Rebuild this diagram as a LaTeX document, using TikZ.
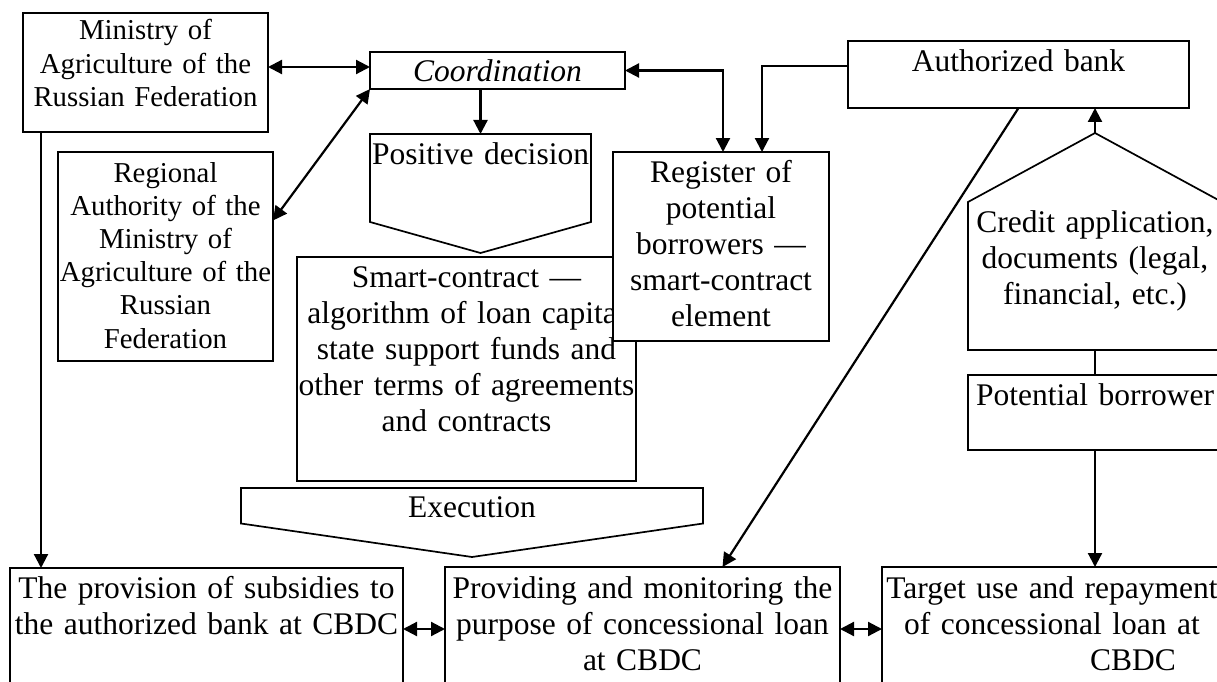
\documentclass[tikz,border=0pt]{standalone}
\usepackage{fontspec}
\setmainfont{Liberation Serif}
\usepackage{tikz}
\usetikzlibrary{arrows.meta}
\newcommand{\boxfont}{\fontsize{31.5pt}{36.2pt}\selectfont}
\newcommand{\smallboxfont}{\fontsize{28.8pt}{33.2pt}\selectfont}
% text width is 40pt more than the box, the negative xsep takes it back
\tikzstyle{box} = [rectangle, draw=black, line width=1.7pt, fill=white, inner xsep=-20pt, inner ysep=0pt, outer sep=0pt, anchor=north west, align=center, font=\boxfont]
\tikzstyle{smallbox} = [box, font=\smallboxfont]
\tikzstyle{plate} = [box, draw=none, fill=none]
\tikzstyle{outline} = [draw=black, line width=1.7pt, line join=miter]
\tikzstyle{line} = [draw, line width=2.2pt]
\tikzstyle{arrow} = [line width=2.2pt, -{Triangle[length=14pt,width=14pt]}]
\tikzstyle{darrow} = [line width=2.2pt, {Triangle[length=14pt,width=14pt]}-{Triangle[length=14pt,width=14pt]}]
\begin{document}
\begin{tikzpicture}[x=1pt, y=-1pt]
\useasboundingbox (0,0) rectangle (1217,682);
\clip (0,0) rectangle (1217,682);

\node (ministry) [smallbox, text width=285pt, text height=27pt, text depth=92pt] at (23,13) {Ministry of\\Agriculture of the\\Russian Federation};
\node (regional) [smallbox, text width=255pt, text height=30pt, text depth=179pt] at (58,152) {Regional\\Authority of the\\Ministry of\\Agriculture of the\\Russian\\Federation};
\node (coord) [box, font=\boxfont\itshape, text width=295pt, text height=30pt, text depth=7pt] at (370,52) {Coordination};

\node (positive) [plate, text width=261pt, text height=30pt, text depth=58pt] at (370,134) {Positive decision};
\draw [outline] (positive.north west) -- (positive.north east) -- (positive.south east) -- ([yshift=-31pt]positive.south) -- (positive.south west) -- cycle;

\node (smart) [box, text width=379pt, text height=30pt, text depth=194pt] at (297,257) {Smart-contract —\\algorithm of loan capital\\state support funds and\\other terms of agreements\\and contracts};
\node (register) [box, text width=256pt, text height=30pt, text depth=159pt] at (613,152) {Register of\\potential\\borrowers —\\smart-contract\\element};

\node (bank) [box, text width=381pt, text height=31pt, text depth=36pt] at (848,41) {Authorized bank};
\node (credit) [plate, text width=294pt, text height=30pt, text depth=118pt] at (968,202) {Credit application,\\documents (legal,\\financial, etc.)};
\draw [outline] (credit.south west) -- (credit.north west) -- ([yshift=69pt]credit.north) coordinate (credittip) -- (credit.north east) -- (credit.south east) -- cycle;
\node (borrower) [box, text width=294pt, text height=30pt, text depth=45pt] at (968,375) {Potential borrower};

\node (execution) [plate, text width=502pt, text height=29pt, text depth=6.5pt] at (241,488) {Execution};
\draw [outline] (execution.north west) -- (execution.north east) -- (execution.south east) -- ([yshift=-33.5pt]execution.south) -- (execution.south west) -- cycle;

\node (provision) [box, text width=433pt, text height=30pt, text depth=92pt] at (10,568) {The provision of subsidies to\\the authorized bank at CBDC};
\node (providing) [box, text width=435pt, text height=31pt, text depth=93pt] at (445,567) {Providing and monitoring the\\purpose of concessional loan\\at CBDC};
\node (target) [box, text width=380pt, text height=31pt, text depth=93pt] at (882,567) {Target use and repayment\\of concessional loan at\\\hspace*{162pt}CBDC};

\coordinate (ministryout) at ([yshift=5.5pt]ministry.east);
\coordinate (ministrydown) at ([xshift=18pt]ministry.south west);
\coordinate (bankout) at ([yshift=8.5pt]bank.west);
\draw [darrow] (ministryout) -- (ministryout -| coord.west);
\draw [darrow] ([yshift=36pt]regional.east) -- (coord.south west);
\draw [arrow] (positive.north |- coord.south) -- (positive.north);
\draw [darrow] (coord.east) -| ([xshift=2pt]register.north);
\draw [arrow] (bankout) -| ([xshift=41pt]register.north);
\draw [arrow] (bank.south) -- ([xshift=80pt]providing.north);
\draw [arrow] (credittip) -- (credittip |- bank.south);
\path [line] (credit.south) -- (borrower.north);
\draw [arrow] (borrower.south) -- (borrower.south |- target.north);
\draw [arrow] (ministrydown) -- (ministrydown |- provision.north);
\draw [darrow] (provision.east) -- (providing.west);
\draw [darrow] (providing.east) -- (target.west);
\end{tikzpicture}
\end{document}
